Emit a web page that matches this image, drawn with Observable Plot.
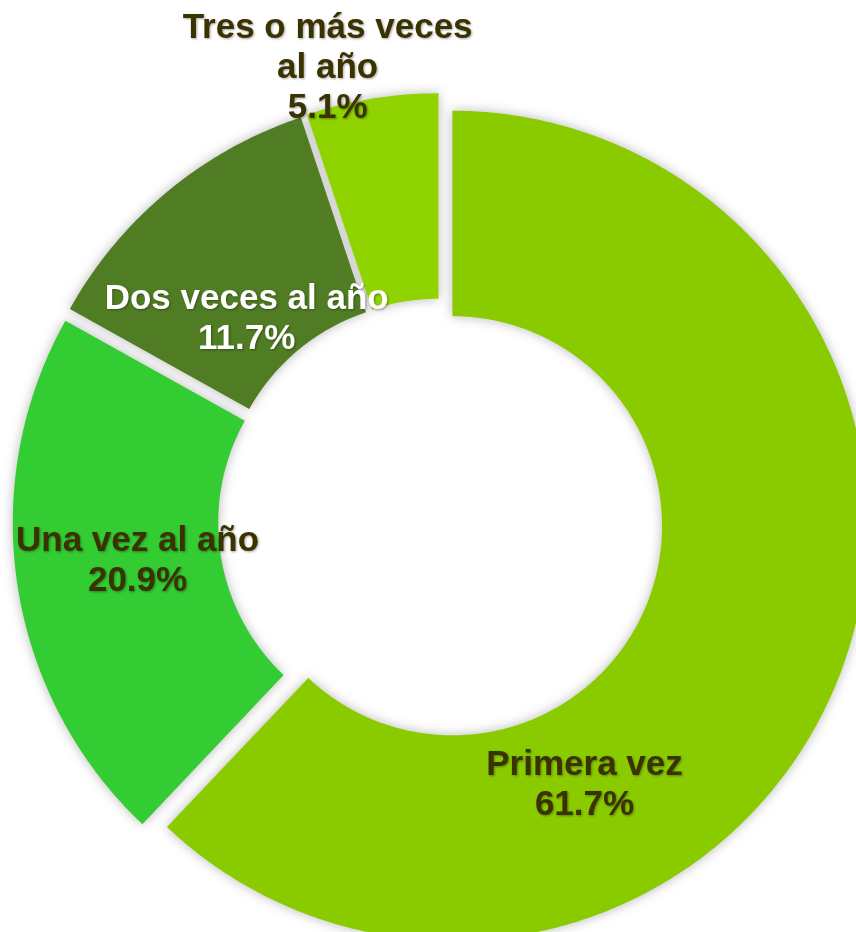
<!DOCTYPE html>
<html>
<head>
<meta charset="utf-8">
<script src="https://cdn.jsdelivr.net/npm/d3@7"></script>
<script src="https://cdn.jsdelivr.net/npm/@observablehq/plot@0.6"></script>
<style>
  html, body { margin: 0; padding: 0; background: #ffffff; }
  #chart svg { display: block; }
  #chart g.slices { filter: drop-shadow(0px 0px 6px rgba(0,0,0,0.28)); }
  #chart g.labels { filter: drop-shadow(1.5px 1.5px 1px rgba(0,0,0,0.35)); }
</style>
</head>
<body>
<div id="chart"></div>
<script>
// Data (clockwise from 12 o'clock)
const categories = ["Primera vez", "Una vez al año", "Dos veces al año", "Tres o más veces\nal año"];
const values = [61.7, 20.9, 11.7, 5.1];
const valueLabels = ["61.7%", "20.9%", "11.7%", "5.1%"];
const colors = ["#8acb00", "#33cc33", "#507d23", "#8fd400"];
const labelColors = ["#3a3300", "#3a3300", "#ffffff", "#3a3300"];

// Layout (unit = outer radius)
const innerR = 0.505;
const explode = 0.031;
// label anchors (top-center of each label block) in chart units
const labelAnchors = [[0.347, -0.543], [-0.730, -0.004], [-0.467, 0.580], [-0.272, 1.232]];

const total = d3.sum(values);
const points = [];
let acc = 0;
values.forEach((v, i) => {
  const a0 = acc / total * 2 * Math.PI;
  acc += v;
  const a1 = acc / total * 2 * Math.PI;
  const mid = (a0 + a1) / 2;
  const ox = explode * Math.sin(mid), oy = explode * Math.cos(mid);
  const n = Math.max(8, Math.ceil((a1 - a0) / 0.01));
  for (let k = 0; k <= n; k++) {
    const a = a0 + (a1 - a0) * k / n;
    points.push({cat: categories[i], x: Math.sin(a) + ox, y: Math.cos(a) + oy});
  }
  for (let k = n; k >= 0; k--) {
    const a = a0 + (a1 - a0) * k / n;
    points.push({cat: categories[i], x: innerR * Math.sin(a) + ox, y: innerR * Math.cos(a) + oy});
  }
});

const labels = categories.map((c, i) => ({
  text: c + "\n" + valueLabels[i],
  x: labelAnchors[i][0],
  y: labelAnchors[i][1],
  color: labelColors[i]
}));

const W = 856, H = 932, R = 415, cx = 440, cy = 520.5;

const chart = Plot.plot({
  width: W,
  height: H,
  margin: 0,
  style: {background: "#ffffff", overflow: "visible"},
  x: {domain: [-cx / R, (W - cx) / R], axis: null},
  y: {domain: [-(H - cy) / R, cy / R], axis: null},
  color: {domain: categories, range: colors},
  marks: [
    Plot.line(points, {x: "x", y: "y", z: "cat", fill: "cat", stroke: "none", curve: "linear-closed", className: "slices"}),
    Plot.text(labels, {
      x: "x", y: "y", text: "text", fill: d => d.color,
      fontSize: 35, fontWeight: "bold", fontFamily: "Liberation Sans, Arial, sans-serif",
      lineAnchor: "top", lineHeight: 40 / 35, textAnchor: "middle",
      className: "labels"
    })
  ]
});
document.getElementById("chart").appendChild(chart);
// Plot's text fill channel with literal colors
</script>
</body>
</html>
